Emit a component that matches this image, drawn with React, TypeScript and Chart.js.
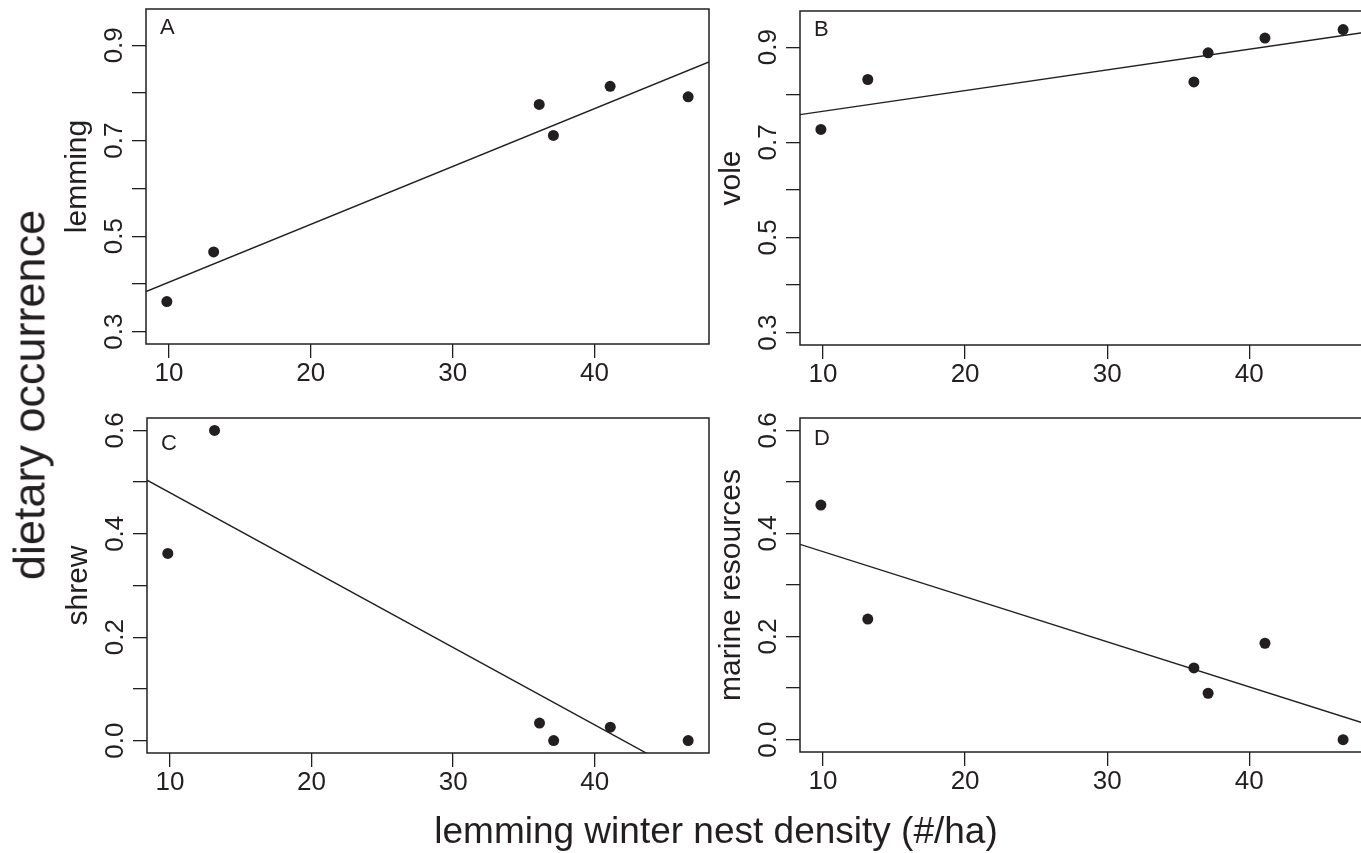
import React, { useEffect, useRef } from "react";
import { Chart, registerables } from "chart.js";

Chart.register(...registerables);

// ---------- data ----------
const nestDensity = [9.85, 13.15, 36.1, 37.1, 41.1, 46.6];
const lemmingOcc = [0.363, 0.467, 0.776, 0.711, 0.814, 0.792];
const voleOcc = [0.727, 0.832, 0.827, 0.888, 0.919, 0.937];
const shrewOcc = [0.362, 0.6, 0.034, 0.0, 0.026, 0.0];
const marineOcc = [0.455, 0.234, 0.139, 0.09, 0.187, 0.0];

const panelLetters = ["A", "B", "C", "D"];
const panelYTitles = ["lemming", "vole", "shrew", "marine resources"];
const xTickValues = [10, 20, 30, 40];
const xTickLabels = ["10", "20", "30", "40"];
const yTickValuesTop = [0.3, 0.4, 0.5, 0.6, 0.7, 0.8, 0.9];
const yTickLabelsTop = ["0.3", "", "0.5", "", "0.7", "", "0.9"];
const yTickValuesBottom = [0, 0.1, 0.2, 0.3, 0.4, 0.5, 0.6];
const yTickLabelsBottom = ["0.0", "", "0.2", "", "0.4", "", "0.6"];
const yLimitsTop = [0.3, 0.95];
const yLimitsBottom = [0, 0.6];
const outerYTitle = "dietary occurrence";
const outerXTitle = "lemming winter nest density (#/ha)";

// ---------- style / layout ----------
const INK = "#231f20";
const FONT = "'Liberation Sans', Arial, Helvetica, sans-serif";
const CW = 1380;
const CH = 853;
const Y_AXIS_W = 84;
const X_AXIS_H = 50;

const PANEL_BOXES = [
  { left: 146, top: 9, right: 709, bottom: 344, letterDy: 19 },
  { left: 800, top: 11, right: 1364, bottom: 345, letterDy: 18.5 },
  { left: 147, top: 418, right: 709, bottom: 753, letterDy: 26 },
  { left: 800, top: 418, right: 1364, bottom: 752, letterDy: 21 },
];

Chart.defaults.font.family = FONT;

// R-style 4% axis extension
const extend = (lo: number, hi: number) => {
  const d = (hi - lo) * 0.04;
  return [lo - d, hi + d];
};

const olsFit = (xs: number[], ys: number[]) => {
  const n = xs.length;
  const mx = xs.reduce((a, b) => a + b, 0) / n;
  const my = ys.reduce((a, b) => a + b, 0) / n;
  let sxy = 0;
  let sxx = 0;
  for (let i = 0; i < n; i++) {
    sxy += (xs[i] - mx) * (ys[i] - my);
    sxx += (xs[i] - mx) * (xs[i] - mx);
  }
  const b = sxy / sxx;
  return { a: my - b * mx, b };
};

const framePlugin = {
  id: "frame",
  afterDraw(chart: any, _args: any, opts: any) {
    const { ctx, chartArea: a } = chart;
    ctx.save();
    ctx.strokeStyle = INK;
    ctx.lineWidth = 1.5;
    ctx.strokeRect(a.left, a.top, a.right - a.left, a.bottom - a.top);
    ctx.fillStyle = INK;
    ctx.font = `22px ${FONT}`;
    ctx.textBaseline = "middle";
    ctx.textAlign = "left";
    ctx.fillText(opts.letter, a.left + 14, a.top + opts.letterDy);
    ctx.restore();
  },
};

function buildChart(canvas: HTMLCanvasElement, idx: number) {
  const series = [lemmingOcc, voleOcc, shrewOcc, marineOcc][idx];
  const isTop = idx < 2;
  const yLim = isTop ? yLimitsTop : yLimitsBottom;
  const yTicks = isTop ? yTickValuesTop : yTickValuesBottom;
  const yLabels = isTop ? yTickLabelsTop : yTickLabelsBottom;
  const box = PANEL_BOXES[idx];

  const [xMin, xMax] = extend(Math.min(...nestDensity), Math.max(...nestDensity));
  const [yMin, yMax] = extend(yLim[0], yLim[1]);
  const fit = olsFit(nestDensity, series);
  const fitLine = [
    { x: xMin, y: fit.a + fit.b * xMin },
    { x: xMax, y: fit.a + fit.b * xMax },
  ];
  const points = nestDensity.map((x, i) => ({ x, y: series[i] }));

  return new Chart(canvas, {
    type: "scatter",
    data: {
      datasets: [
        {
          data: fitLine,
          showLine: true,
          borderColor: INK,
          backgroundColor: INK,
          borderWidth: 1.4,
          pointRadius: 0,
          clip: 0,
        } as any,
        {
          data: points,
          pointRadius: 5.5,
          pointBackgroundColor: INK,
          pointBorderColor: INK,
          pointBorderWidth: 0,
          backgroundColor: INK,
          borderColor: INK,
          clip: false,
        } as any,
      ],
    },
    options: {
      animation: false,
      responsive: false,
      devicePixelRatio: 1,
      events: [],
      layout: {
        padding: {
          left: box.left - Y_AXIS_W,
          top: box.top,
          right: CW - box.right,
          bottom: CH - box.bottom - X_AXIS_H,
        },
      },
      plugins: {
        legend: { display: false },
        tooltip: { enabled: false },
        colors: { enabled: false },
        frame: { letter: panelLetters[idx], letterDy: box.letterDy },
      } as any,
      scales: {
        x: {
          type: "linear",
          position: "bottom",
          min: xMin,
          max: xMax,
          afterBuildTicks: (s: any) => {
            s.ticks = xTickValues.map((v) => ({ value: v }));
          },
          afterFit: (s: any) => {
            s.height = X_AXIS_H;
            s.paddingLeft = 0;
            s.paddingRight = 0;
          },
          grid: {
            drawOnChartArea: false,
            drawTicks: true,
            tickLength: 14,
            color: INK,
            lineWidth: 1.3,
          },
          border: { display: false },
          ticks: {
            autoSkip: false,
            minRotation: 0,
            maxRotation: 0,
            padding: 3,
            color: INK,
            font: { size: 26, lineHeight: 1 },
            callback: (_v: any, i: number) => xTickLabels[i],
          },
        },
        y: {
          type: "linear",
          position: "left",
          min: yMin,
          max: yMax,
          afterBuildTicks: (s: any) => {
            s.ticks = yTicks.map((v) => ({ value: v }));
          },
          afterFit: (s: any) => {
            s.width = Y_AXIS_W;
            s.paddingTop = 0;
            s.paddingBottom = 0;
          },
          grid: {
            drawOnChartArea: false,
            drawTicks: true,
            tickLength: 14,
            color: INK,
            lineWidth: 1.3,
          },
          border: { display: false },
          ticks: {
            autoSkip: false,
            minRotation: 90,
            maxRotation: 90,
            crossAlign: "center",
            padding: -1,
            color: INK,
            font: { size: 26, lineHeight: 1 },
            callback: (_v: any, i: number) => yLabels[i],
          },
          title: {
            display: true,
            text: panelYTitles[idx],
            color: INK,
            font: { size: 30, lineHeight: 1 },
            padding: { top: 1, bottom: 0 },
          },
        },
      },
    } as any,
    plugins: [framePlugin as any],
  });
}

export default function App() {
  const r0 = useRef<HTMLCanvasElement>(null);
  const r1 = useRef<HTMLCanvasElement>(null);
  const r2 = useRef<HTMLCanvasElement>(null);
  const r3 = useRef<HTMLCanvasElement>(null);

  useEffect(() => {
    document.body.style.margin = "0";
    document.body.style.overflow = "hidden";
    const refs = [r0, r1, r2, r3];
    const charts = refs.map((r, i) => buildChart(r.current as HTMLCanvasElement, i));
    return () => charts.forEach((c) => c.destroy());
  }, []);

  const canvasStyle: React.CSSProperties = { position: "absolute", left: 0, top: 0 };

  return (
    <div
      style={{
        position: "relative",
        width: 1361,
        height: 853,
        overflow: "hidden",
        background: "#ffffff",
        fontFamily: FONT,
      }}
    >
      <canvas ref={r0} width={CW} height={CH} style={canvasStyle} />
      <canvas ref={r1} width={CW} height={CH} style={canvasStyle} />
      <canvas ref={r2} width={CW} height={CH} style={canvasStyle} />
      <canvas ref={r3} width={CW} height={CH} style={canvasStyle} />
      <div
        style={{
          position: "absolute",
          left: 29.4,
          top: 395,
          transform: "translate(-50%, -50%) rotate(-90deg)",
          fontSize: 45,
          lineHeight: "45px",
          whiteSpace: "nowrap",
          color: INK,
        }}
      >
        {outerYTitle}
      </div>
      <div
        style={{
          position: "absolute",
          left: 716,
          top: 812,
          transform: "translateX(-50%)",
          fontSize: 37,
          lineHeight: "37px",
          whiteSpace: "nowrap",
          color: INK,
        }}
      >
        {outerXTitle}
      </div>
    </div>
  );
}
